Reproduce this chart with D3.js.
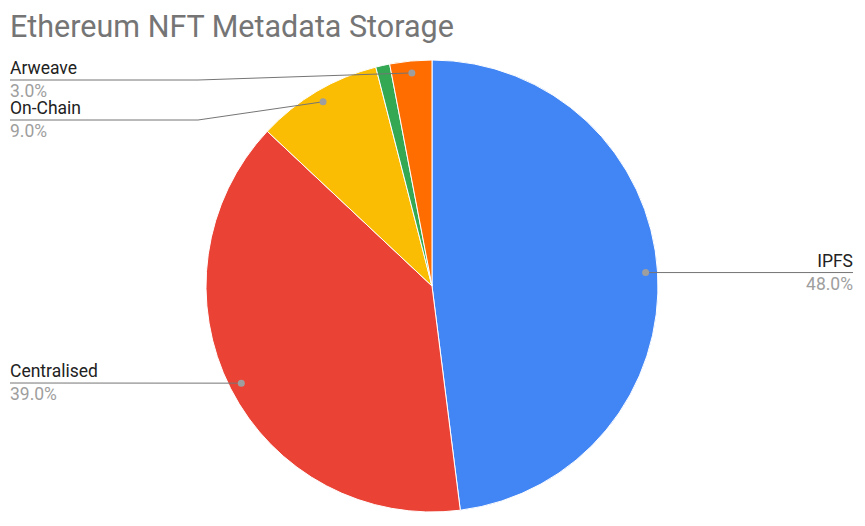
<!DOCTYPE html>
<html><head><meta charset="utf-8">
<script src="https://cdn.jsdelivr.net/npm/d3@7"></script>
<style>body{margin:0;background:#fff}svg{display:block}</style>
</head><body>
<script>
const categories = ["IPFS", "Centralised", "On-Chain", "Other", "Arweave"];
const values = [48, 39, 9, 1, 3];
const colors = ["#4285f4", "#ea4335", "#fbbc04", "#34a853", "#ff6d01"];
const showLabel = [true, true, true, false, true];

const W = 865, H = 526, cx = 432, cy = 286, R = 226;
const svg = d3.select("body").append("svg").attr("width", W).attr("height", H);

svg.append("text").attr("x", 10).attr("y", 37)
  .attr("font-family", "Roboto, Arial, sans-serif").attr("font-size", 30.5)
  .attr("fill", "#757575").text("Ethereum NFT Metadata Storage");

const data = categories.map((c, i) => ({name: c, value: values[i], color: colors[i], show: showLabel[i]}));
const pie = d3.pie().value(d => d.value).sort(null);
const arcs = pie(data);
const arc = d3.arc().innerRadius(0).outerRadius(R);
const g = svg.append("g").attr("transform", `translate(${cx},${cy})`);
g.selectAll("path").data(arcs).join("path")
  .attr("d", arc).attr("fill", d => d.data.color)
  .attr("stroke", "#fff").attr("stroke-width", 1);

const total = d3.sum(values);
const fmt = v => (v / total * 100).toFixed(1) + "%";
const rd = R * 0.947;
const lab = svg.append("g").attr("font-family", "Roboto, Arial, sans-serif").attr("font-size", 17.5);
const leftLabelY = [null, 383, 120, null, 80];

arcs.forEach((a, i) => {
  if (!a.data.show) return;
  const mid = (a.startAngle + a.endAngle) / 2;
  const px = cx + rd * Math.sin(mid), py = cy - rd * Math.cos(mid);
  let pts, tx, anchor, ly;
  if (px > cx) {
    ly = py;
    pts = [[px, py], [853, py]];
    tx = 853; anchor = "end";
  } else {
    ly = leftLabelY[i];
    if (Math.abs(ly - py) < 2) pts = [[px, py], [10, ly]];
    else pts = [[px, py], [198, ly], [10, ly]];
    tx = 10; anchor = "start";
  }
  lab.append("path").attr("d", d3.line()(pts)).attr("fill", "none")
    .attr("stroke", "#757575").attr("stroke-width", 1);
  lab.append("circle").attr("cx", px).attr("cy", py).attr("r", 3.5).attr("fill", "#9e9e9e");
  lab.append("text").attr("x", tx).attr("y", ly - 6).attr("text-anchor", anchor)
    .attr("fill", "#222").text(a.data.name);
  lab.append("text").attr("x", tx).attr("y", ly + 17).attr("text-anchor", anchor)
    .attr("fill", "#9e9e9e").text(fmt(a.data.value));
});
</script>
</body></html>
